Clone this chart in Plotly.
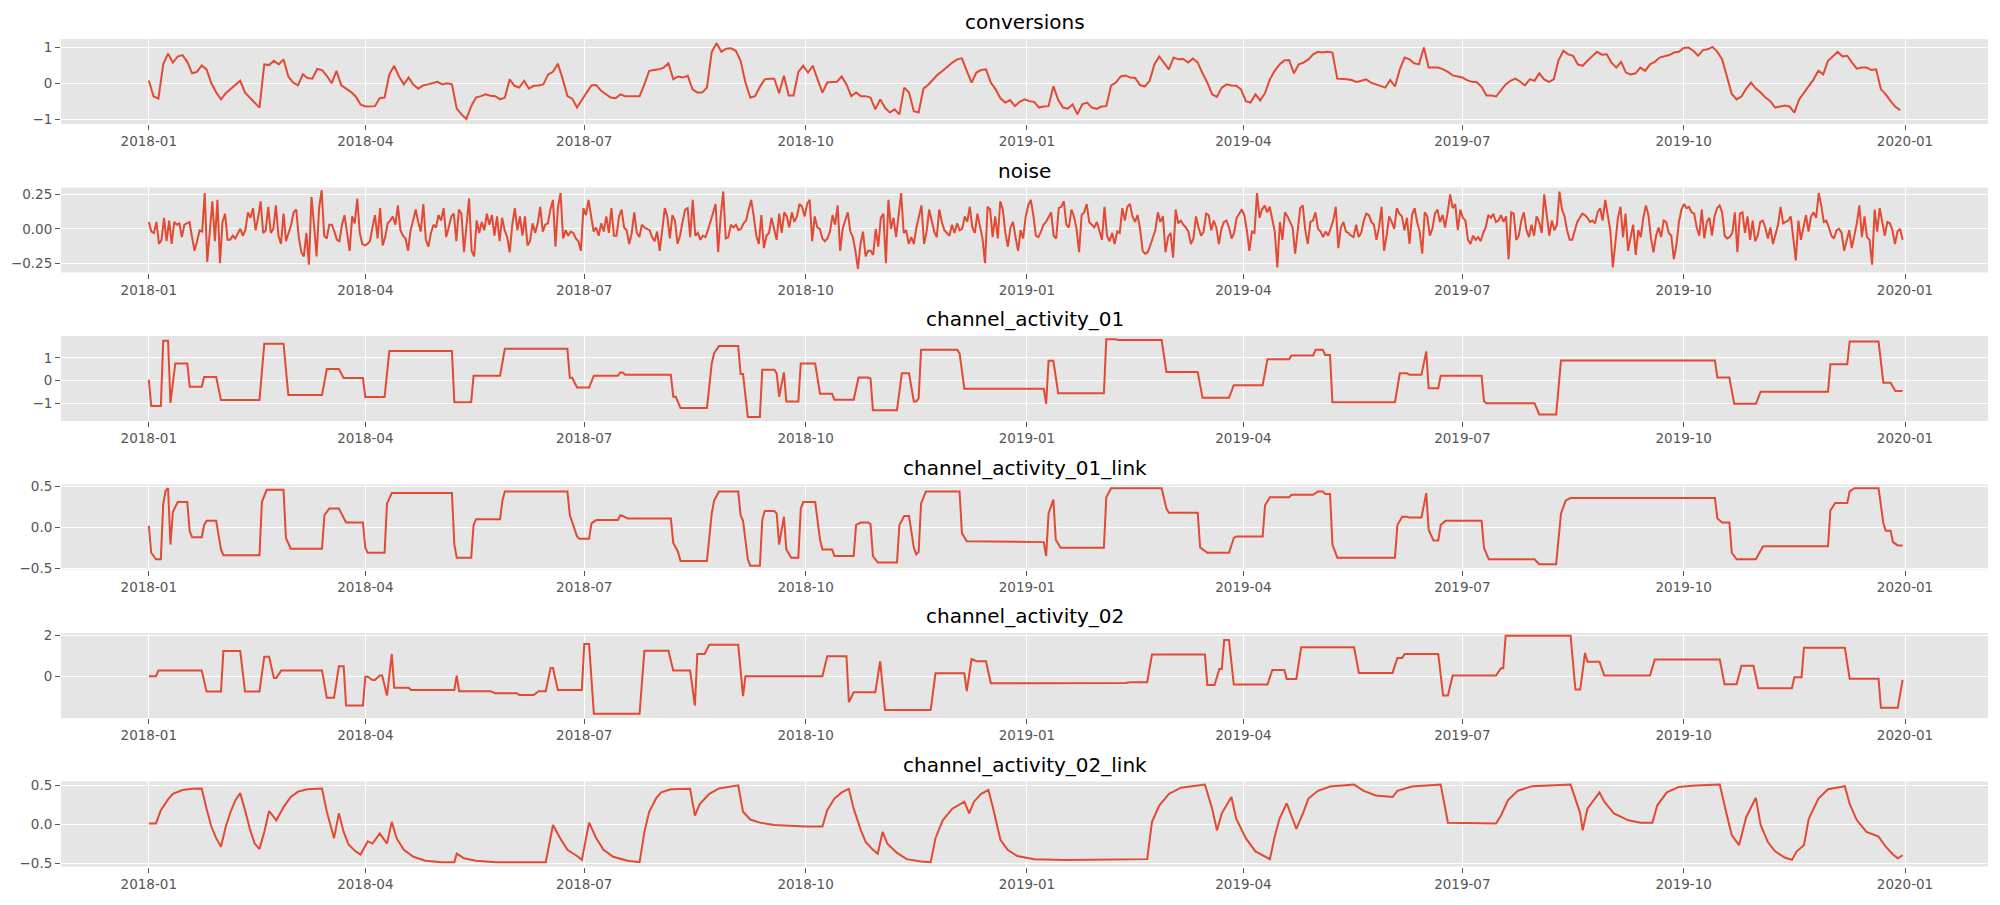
import pandas as pd
import plotly.graph_objects as go

# ---------------- data ----------------
START = "2018-01-01"
END = "2019-12-31"

titles = ["conversions", "noise", "channel_activity_01", "channel_activity_01_link",
          "channel_activity_02", "channel_activity_02_link"]

# conversions: one value every 2 days from 2018-01-01
conversions = [
    0.08, -0.37, -0.43, 0.54, 0.83, 0.58, 0.75, 0.79, 0.60, 0.28,
    0.32, 0.50, 0.39, 0.00, -0.25, -0.45, -0.28, -0.17, -0.05, 0.07,
    -0.26, -0.40, -0.54, -0.68, 0.53, 0.51, 0.63, 0.53, 0.67, 0.19,
    0.02, -0.06, 0.25, 0.15, 0.13, 0.40, 0.37, 0.21, 0.00, 0.35,
    -0.06, -0.15, -0.24, -0.37, -0.59, -0.65, -0.65, -0.64, -0.41, -0.40,
    0.25, 0.49, 0.19, -0.03, 0.16, -0.04, -0.15, -0.06, -0.03, 0.00,
    0.04, -0.03, 0.00, -0.03, -0.71, -0.87, -1.00, -0.64, -0.40, -0.36,
    -0.31, -0.35, -0.36, -0.45, -0.40, 0.11, -0.07, -0.12, 0.07, -0.15,
    -0.07, -0.06, -0.03, 0.25, 0.32, 0.55, 0.13, -0.36, -0.43, -0.68,
    -0.45, -0.26, -0.06, -0.05, -0.21, -0.31, -0.40, -0.42, -0.31, -0.36,
    -0.36, -0.37, -0.36, -0.03, 0.35, 0.37, 0.39, 0.44, 0.56, 0.11,
    0.19, 0.16, 0.21, -0.17, -0.26, -0.26, -0.12, 0.88, 1.12, 0.88,
    0.97, 0.98, 0.91, 0.63, 0.02, -0.40, -0.36, -0.10, 0.11, 0.13,
    0.13, -0.28, 0.21, -0.34, -0.34, 0.32, 0.49, 0.30, 0.49, 0.11,
    -0.26, 0.02, 0.02, 0.04, 0.19, -0.03, -0.36, -0.26, -0.36, -0.36,
    -0.40, -0.73, -0.45, -0.68, -0.82, -0.73, -0.87, -0.12, -0.26, -0.78,
    -0.82, -0.15, -0.04, 0.11, 0.25, 0.35, 0.47, 0.58, 0.67, 0.70,
    0.35, 0.02, 0.30, 0.37, 0.39, 0.02, -0.17, -0.42,
    -0.54, -0.47, -0.64, -0.52, -0.45, -0.50, -0.52, -0.68, -0.65, -0.64,
    -0.08, -0.46, -0.68, -0.71, -0.59, -0.87, -0.59, -0.54, -0.68, -0.72,
    -0.65, -0.64, -0.06, 0.02, 0.19, 0.22, 0.16, 0.15, -0.05, -0.09,
    0.07, 0.53, 0.75, 0.58, 0.39, 0.72, 0.67, 0.68, 0.58, 0.69,
    0.58, 0.28, 0.02, -0.31, -0.38, -0.12, -0.03, -0.06, -0.07, -0.17,
    -0.50, -0.54, -0.31, -0.48, -0.27, 0.11, 0.35, 0.53, 0.64, 0.65,
    0.28, 0.53, 0.58, 0.67, 0.81, 0.88, 0.86, 0.88, 0.86, 0.13,
    0.13, 0.11, 0.09, 0.04, 0.07, 0.11, 0.02, -0.03, -0.09, -0.12,
    0.09, -0.09, 0.39, 0.72, 0.67, 0.56, 0.53, 1.00, 0.44, 0.44,
    0.44, 0.39, 0.32, 0.22, 0.19, 0.16, 0.09, 0.04, 0.03, -0.10,
    -0.34, -0.34, -0.37, -0.21, -0.03, 0.07, 0.13, 0.05, -0.06, 0.11,
    0.07, 0.28, 0.11, 0.04, 0.11, 0.65, 0.91, 0.81, 0.77, 0.53,
    0.49, 0.63, 0.75, 0.88, 0.80, 0.81, 0.58, 0.44, 0.60, 0.30,
    0.25, 0.28, 0.44, 0.35, 0.53, 0.60, 0.72, 0.75, 0.79, 0.86,
    0.88, 0.99, 1.00, 0.91, 0.77, 0.93, 0.95, 1.02, 0.88, 0.67,
    0.20, -0.30, -0.45, -0.37, -0.15, 0.02, -0.15, -0.26, -0.40, -0.50,
    -0.68, -0.65, -0.62, -0.65, -0.82, -0.45, -0.26, -0.05, 0.11, 0.35,
    0.25, 0.63, 0.77, 0.88, 0.75, 0.77, 0.58, 0.41, 0.44, 0.44,
    0.37, 0.39, -0.17, -0.31, -0.50, -0.66, -0.75,
]

# noise: evenly spaced samples over 2018-01-01 .. 2019-12-31
noise = [
    0.05, -0.02, -0.03, 0.05, -0.11, -0.08, 0.08, -0.09, 0.06, -0.11, 0.05, 0.03, 0.04, -0.06, 0.03, 0.04,
    0.05, -0.06, -0.16, -0.09, -0.01, -0.02, 0.26, -0.24, -0.01, 0.20, -0.09, 0.21, -0.25, 0.05, 0.11, -0.08,
    -0.08, -0.05, -0.07, -0.03, 0.00, -0.05, -0.01, 0.12, 0.08, 0.15, -0.01, 0.08, 0.20, -0.03, -0.01, 0.16,
    -0.03, 0.00, 0.17, -0.05, -0.11, 0.11, -0.09, -0.03, 0.03, 0.12, 0.14, -0.06, -0.17, -0.20, -0.03, -0.26,
    0.23, 0.03, -0.20, 0.15, 0.28, -0.05, -0.07, 0.03, 0.03, -0.02, -0.08, -0.09, 0.03, 0.10, -0.05, -0.16,
    0.09, 0.04, 0.22, -0.03, -0.11, -0.12, -0.11, -0.09, 0.01, 0.10, -0.07, 0.15, -0.12, -0.06, 0.04, 0.06,
    0.09, 0.03, 0.17, -0.01, -0.05, -0.07, -0.16, -0.01, 0.06, 0.14, 0.05, -0.02, 0.18, -0.08, -0.13, -0.03,
    0.03, 0.01, 0.10, 0.06, 0.15, -0.06, 0.01, 0.09, 0.11, -0.09, 0.14, 0.11, -0.17, 0.01, 0.22, -0.16,
    -0.20, 0.06, -0.03, 0.05, -0.01, 0.11, 0.03, 0.10, -0.05, 0.09, -0.09, 0.08, -0.01, -0.06, -0.17, 0.03,
    0.15, -0.01, 0.09, -0.05, 0.09, -0.12, -0.09, 0.04, -0.03, 0.04, 0.16, -0.02, 0.03, 0.04, 0.14, 0.21,
    -0.13, 0.16, 0.26, -0.07, -0.01, -0.05, -0.02, -0.03, -0.07, -0.09, -0.16, 0.15, 0.10, 0.21, 0.08, -0.02,
    0.01, -0.05, 0.04, -0.02, 0.09, -0.03, 0.15, -0.05, -0.05, 0.09, 0.14, 0.01, -0.01, -0.11, -0.03, 0.12,
    -0.03, -0.06, 0.03, 0.01, 0.00, -0.01, -0.06, -0.09, -0.02, -0.16, -0.01, 0.15, 0.09, -0.07, 0.10, 0.06,
    -0.11, -0.05, 0.05, 0.14, 0.15, -0.06, 0.21, -0.05, -0.03, -0.08, -0.05, -0.06, -0.01, 0.05, 0.12, 0.18,
    -0.17, 0.09, 0.27, -0.07, -0.06, 0.03, 0.01, 0.03, -0.01, 0.00, 0.04, 0.06, 0.14, 0.21, 0.09, -0.05,
    -0.11, 0.10, -0.14, -0.05, -0.03, 0.08, 0.00, -0.08, 0.11, -0.03, 0.12, 0.09, 0.01, 0.12, 0.05, 0.09,
    0.18, 0.16, 0.09, 0.18, 0.21, -0.09, 0.09, 0.01, 0.00, -0.07, -0.09, -0.07, -0.02, 0.10, 0.03, 0.17,
    -0.16, 0.00, 0.06, 0.12, -0.02, -0.06, -0.16, -0.29, -0.11, -0.02, -0.20, -0.16, -0.16, -0.19, 0.00, -0.13,
    0.08, 0.11, -0.25, 0.21, 0.00, 0.08, -0.06, 0.12, 0.26, -0.03, -0.01, -0.11, -0.06, -0.11, 0.01, 0.09,
    0.17, -0.11, -0.02, 0.14, 0.06, -0.02, -0.06, 0.14, 0.05, -0.01, -0.03, -0.05, 0.03, -0.03, 0.04, -0.01,
    0.00, 0.09, 0.05, 0.16, 0.01, -0.03, 0.11, 0.01, -0.07, -0.25, 0.16, 0.14, -0.06, 0.09, -0.07, 0.20,
    0.14,
    -0.03, -0.13, 0.01, 0.05, -0.06, -0.16, -0.01, -0.07, 0.09, 0.17, 0.21, 0.10, -0.05, -0.06, -0.02, 0.03,
    0.05, 0.08, 0.12, -0.05, -0.07, 0.15, 0.16, 0.20, 0.03, 0.01, 0.14, 0.09, 0.00, -0.17, 0.10, 0.12,
    0.18, 0.05, 0.03, 0.01, 0.05, -0.01, -0.08, 0.16, -0.05, -0.09, -0.03, -0.11, -0.02, -0.03, 0.15, 0.06,
    0.16, 0.18, 0.09, 0.05, 0.10, 0.00, -0.16, -0.18, -0.17, -0.12, -0.06, -0.01, 0.12, 0.05, 0.09, -0.17,
    -0.06, -0.03, -0.21, 0.14, 0.04, 0.06, 0.03, 0.01, -0.02, -0.11, -0.07, 0.09, 0.01, -0.05, -0.02, 0.11,
    0.10, -0.01, 0.06, 0.01, -0.11, 0.00, 0.05, 0.06, 0.01, -0.07, -0.03, 0.08, 0.11, 0.14, 0.10, -0.01,
    -0.16, -0.02, -0.03, 0.26, 0.08, 0.14, 0.17, 0.12, 0.16, 0.06, -0.02, -0.28, 0.05, -0.08, 0.12, 0.09,
    0.05, 0.01, -0.18, 0.00, 0.15, 0.17, -0.01, -0.11, 0.05, 0.06, 0.12, 0.00, -0.02, -0.06, -0.02, -0.05,
    0.00, 0.06, 0.16, -0.14, 0.01, 0.05, -0.02, -0.03, -0.05, -0.06, 0.03, -0.06, -0.03, 0.06, 0.11, 0.10,
    0.05, 0.03, -0.08, 0.01, 0.16, -0.16, -0.05, 0.09, 0.05, 0.00, 0.15, 0.11, 0.09, -0.01, 0.08, -0.11,
    0.10, 0.15, 0.05, -0.02, -0.18, 0.12, 0.09, -0.05, 0.00, 0.11, 0.14, 0.05, 0.10, 0.01, 0.12, 0.25,
    0.15, 0.18, -0.01, 0.14, 0.08, 0.06, -0.08, -0.11, -0.05, -0.08, -0.06, -0.09, -0.03, 0.01, 0.10, 0.08,
    0.11, 0.05, 0.06, 0.10, 0.05, 0.09, -0.22, 0.12, 0.11, -0.08, -0.05, 0.06, 0.12, -0.01, -0.06, 0.03,
    -0.05, 0.09, 0.05, -0.03, 0.25, 0.09, -0.05, 0.06, -0.01, 0.03, 0.27, 0.14, 0.09, -0.01, -0.08, -0.08,
    -0.01, 0.05, 0.08, 0.11, 0.10, 0.08, 0.05, 0.06, 0.04, 0.12, 0.15, 0.06, 0.21, 0.09, -0.01, -0.28,
    -0.08, 0.08, 0.16, -0.06, 0.11, -0.16, -0.06, 0.03, -0.19, -0.01, -0.06, 0.08, 0.17, 0.10, -0.07, -0.17,
    -0.05, 0.01, -0.06, 0.06, 0.05, -0.03, -0.05, -0.22, -0.12, 0.05, 0.14, 0.18, 0.15, 0.16, 0.12, 0.11,
    0.01, -0.05, 0.14, -0.07, 0.05, 0.08, -0.05, 0.09, 0.15, 0.17, 0.12, -0.05, -0.07, -0.06, -0.03, 0.12,
    -0.17, 0.11, 0.12, -0.03, 0.09, -0.08, 0.06, -0.09, -0.05, 0.05, 0.06, 0.01, -0.07, 0.01, -0.11, -0.03,
    0.03, 0.16, 0.04, 0.05, 0.06, 0.09, -0.07, -0.23, 0.06, -0.08, 0.01, 0.10, -0.02, 0.09, 0.12, 0.08,
    0.26, 0.17, 0.05, 0.06, 0.01, -0.05, -0.07, -0.01, 0.00, -0.03, -0.16, -0.08, -0.01, -0.14, -0.05, 0.04,
    0.17, -0.06, 0.09, -0.06, -0.08, -0.26, 0.14, -0.02, 0.15, 0.06, -0.05, 0.05, 0.04, -0.01, -0.11, -0.02,
    0.00, -0.08,
]

# step-like series: (day offset from 2018-01-01, value) break points
ch1_points = [
    (0, 0.04), (1, -1.10), (5, -1.10), (6, 1.74), (8, 1.74), (9, -0.97), (11, 0.75), (16, 0.75),
    (17, -0.26), (22, -0.26), (23, 0.16), (28, 0.16), (30, -0.84), (46, -0.84), (48, 1.61), (56, 1.61),
    (58, -0.62), (72, -0.62), (74, 0.51), (79, 0.51), (81, 0.12), (89, 0.12), (90, -0.71), (98, -0.71),
    (100, 1.30), (126, 1.30), (127, -0.94), (134, -0.94), (135, 0.22), (146, 0.22), (148, 1.39), (174, 1.39),
    (175, 0.13), (176, 0.13), (178, -0.30), (183, -0.30), (185, 0.22), (195, 0.22), (196, 0.36), (197, 0.36),
    (198, 0.26), (217, 0.26), (218, -0.70), (219, -0.70), (221, -1.19), (232, -1.19), (234, 0.75), (235, 1.20),
    (237, 1.51), (245, 1.51), (246, 0.29), (247, 0.29), (249, -1.59), (254, -1.59), (255, 0.48), (260, 0.48),
    (261, 0.32), (262, -0.70), (264, 0.36), (265, -0.91), (270, -0.91), (271, 0.75), (277, 0.75), (279, -0.57),
    (284, -0.57), (285, -0.83), (293, -0.83), (295, 0.14), (299, 0.14), (300, 0.10), (301, -1.29), (311, -1.29),
    (313, 0.32), (316, 0.32), (318, -0.91), (319, -0.91), (320, -0.77), (321, 1.35), (336, 1.35), (337, 1.20),
    (339, -0.35), (372, -0.35), (373, -1.01), (374, 0.87), (376, 0.87), (378, -0.55), (397, -0.55), (398, 1.81),
    (402, 1.81), (403, 1.77), (421, 1.77), (423, 0.38), (436, 0.38), (438, -0.75), (449, -0.75), (451, -0.20),
    (463, -0.20), (465, 0.94), (474, 0.94), (475, 1.10), (484, 1.10), (485, 1.35), (488, 1.35), (489, 1.12),
    (491, 1.12), (492, -0.94), (518, -0.94), (520, 0.32), (523, 0.32), (524, 0.26), (529, 0.26), (531, 1.28),
    (532, -0.33), (536, -0.33), (537, 0.22), (554, 0.22), (555, -0.90), (556, -0.99), (576, -0.99), (578, -1.48),
    (585, -1.48), (587, 0.88), (651, 0.88), (652, 0.14), (657, 0.14), (659, -1.01), (668, -1.01), (670, -0.48),
    (698, -0.48), (699, 0.72), (706, 0.72), (707, 1.71), (719, 1.71), (721, -0.09), (724, -0.09), (726, -0.45),
    (729, -0.45),
]

ch1_link_points = [
    (0, 0.02), (1, -0.31), (3, -0.39), (5, -0.39), (6, 0.29), (7, 0.45), (8, 0.48), (9, -0.21),
    (10, 0.19), (12, 0.31), (16, 0.31), (17, -0.05), (18, -0.12), (22, -0.12), (23, 0.03), (24, 0.08),
    (28, 0.08), (30, -0.27), (31, -0.34), (46, -0.34), (47, 0.31), (49, 0.46), (56, 0.46), (57, -0.13),
    (59, -0.26), (72, -0.26), (73, 0.15), (75, 0.23), (79, 0.23), (81, 0.11), (82, 0.06), (89, 0.06),
    (90, -0.25), (91, -0.31), (98, -0.31), (99, 0.29), (101, 0.42), (126, 0.42), (127, -0.21), (128, -0.37),
    (134, -0.37), (135, 0.03), (136, 0.10), (146, 0.10), (147, 0.33), (148, 0.44), (174, 0.44), (175, 0.15),
    (176, 0.06), (178, -0.11), (179, -0.14), (183, -0.14), (184, 0.05), (186, 0.09), (195, 0.09), (196, 0.15),
    (197, 0.14), (199, 0.11), (217, 0.11), (218, -0.19), (220, -0.30), (221, -0.41), (232, -0.41), (234, 0.17),
    (235, 0.33), (237, 0.44), (245, 0.44), (246, 0.15), (247, 0.08), (249, -0.39), (250, -0.47), (254, -0.47),
    (255, 0.09), (256, 0.20), (260, 0.20), (261, 0.17), (262, -0.21), (264, 0.13), (265, -0.27), (267, -0.37),
    (270, -0.37), (271, 0.23), (272, 0.31), (277, 0.31), (279, -0.15), (280, -0.27), (284, -0.27), (285, -0.35),
    (293, -0.35), (294, 0.03), (296, 0.06), (299, 0.06), (300, 0.04), (301, -0.35), (303, -0.43), (311, -0.43),
    (312, 0.03), (314, 0.14), (316, 0.14), (318, -0.25), (319, -0.33), (320, -0.30), (321, 0.29), (323, 0.44),
    (337, 0.44), (338, -0.07), (340, -0.17), (372, -0.18), (373, -0.35), (374, 0.17), (376, 0.34), (377, -0.15),
    (379, -0.25), (397, -0.25), (398, 0.37), (400, 0.48), (421, 0.48), (423, 0.23), (424, 0.18), (436, 0.18),
    (437, -0.245), (440, -0.31), (449, -0.31), (451, -0.13), (452, -0.11), (463, -0.11), (464, 0.27), (466, 0.37),
    (474, 0.37), (475, 0.40), (484, 0.40), (486, 0.44), (488, 0.44), (489, 0.41), (491, 0.41), (492, -0.21),
    (494, -0.37), (518, -0.37), (519, 0.03), (521, 0.13), (523, 0.13), (524, 0.12), (529, 0.12), (531, 0.42),
    (532, -0.03), (534, -0.16), (536, -0.16), (537, 0.03), (539, 0.08), (554, 0.08), (555, -0.25), (557, -0.39),
    (576, -0.39), (578, -0.45), (585, -0.45), (587, 0.17), (589, 0.33), (591, 0.36), (651, 0.36), (652, 0.11),
    (654, 0.06), (657, 0.06), (658, -0.31), (660, -0.39), (668, -0.39), (670, -0.27), (671, -0.23), (698, -0.23),
    (699, 0.21), (701, 0.30), (706, 0.30), (707, 0.44), (709, 0.48), (719, 0.48), (721, 0.05), (722, -0.04),
    (724, -0.04), (725, -0.18), (727, -0.22), (729, -0.22),
]

ch2_points = [
    (0, 0.02), (3, 0.02), (4, 0.29), (22, 0.29), (24, -0.72), (30, -0.72), (31, 1.23), (38, 1.23),
    (40, -0.72), (46, -0.72), (48, 0.96), (50, 0.96), (52, -0.06), (53, -0.06), (55, 0.29), (72, 0.29),
    (74, -1.02), (77, -1.02), (79, 0.50), (81, 0.50), (82, -1.39), (89, -1.39), (90, 0.0), (91, 0.0),
    (93, -0.16), (94, -0.16), (96, 0.05), (97, 0.05), (99, -0.91), (101, 1.09), (102, -0.54), (108, -0.54),
    (109, -0.64), (127, -0.64), (128, 0.05), (129, -0.70), (142, -0.70), (144, -0.80), (153, -0.80), (154, -0.88),
    (160, -0.88), (162, -0.70), (165, -0.70), (167, 0.42), (168, 0.42), (170, -0.64), (180, -0.64), (181, 1.57),
    (183, 1.57), (185, -1.79), (204, -1.79), (206, 1.25), (216, 1.25), (218, 0.29), (225, 0.29), (227, -1.39),
    (228, 1.09), (231, 1.09), (233, 1.54), (245, 1.54), (247, -0.94), (248, 0.02), (280, 0.02), (282, 0.98),
    (290, 0.98), (291, -1.23), (293, -0.75), (302, -0.75), (304, 0.74), (306, -1.60), (325, -1.60), (327, 0.16),
    (339, 0.16), (340, -0.70), (342, 0.85), (344, 0.74), (348, 0.74), (350, -0.32), (406, -0.30), (408, -0.27),
    (415, -0.27), (417, 1.06), (439, 1.06), (440, -0.40), (443, -0.40), (445, 0.37), (446, 0.37), (447, 1.76),
    (449, 1.76), (451, -0.38), (465, -0.38), (467, 0.32), (472, 0.32), (473, -0.11), (477, -0.11), (479, 1.41),
    (501, 1.41), (503, 0.18), (517, 0.18), (519, 0.90), (521, 0.90), (522, 1.09), (536, 1.09), (538, -0.91),
    (540, -0.91), (542, 0.05), (560, 0.05), (562, 0.40), (563, 0.40), (564, 1.97), (591, 1.97), (593, -0.62),
    (595, -0.62), (597, 1.14), (598, 0.72), (603, 0.72), (605, 0.05), (624, 0.05), (626, 0.82), (653, 0.82),
    (655, -0.37), (660, -0.37), (662, 0.53), (667, 0.53), (669, -0.56), (683, -0.56), (684, -0.03), (687, -0.03),
    (688, 1.39), (705, 1.39), (707, -0.10), (719, -0.10), (720, -1.50), (727, -1.50), (729, -0.16),
]

ch2_link_points = [
    (0, 0.01), (3, 0.01), (5, 0.18), (8, 0.32), (10, 0.39), (14, 0.44), (18, 0.455), (22, 0.46),
    (24, 0.20), (26, -0.03), (28, -0.18), (30, -0.29), (32, -0.03), (34, 0.16), (36, 0.31), (38, 0.40),
    (40, 0.18), (42, -0.06), (44, -0.25), (46, -0.32), (48, -0.10), (50, 0.17), (53, 0.05), (56, 0.22),
    (59, 0.35), (62, 0.42), (66, 0.45), (72, 0.46), (74, 0.16), (76, -0.06), (77, -0.18), (79, 0.14),
    (81, -0.10), (83, -0.26), (86, -0.35), (88, -0.39), (91, -0.22), (93, -0.25), (96, -0.12), (99, -0.25),
    (101, 0.03), (103, -0.18), (106, -0.33), (110, -0.42), (115, -0.47), (122, -0.49), (127, -0.49), (128, -0.38),
    (131, -0.44), (136, -0.47), (144, -0.49), (165, -0.49), (168, -0.01), (171, -0.18), (174, -0.33), (178, -0.41),
    (180, -0.46), (183, 0.02), (186, -0.18), (189, -0.33), (193, -0.42), (199, -0.47), (204, -0.49), (206, -0.10),
    (208, 0.16), (211, 0.34), (213, 0.41), (217, 0.45), (225, 0.455), (227, 0.11), (229, 0.26), (233, 0.39),
    (237, 0.46), (245, 0.50), (247, 0.16), (250, 0.06), (254, 0.02), (260, -0.01), (273, -0.03), (280, -0.03),
    (282, 0.18), (285, 0.33), (288, 0.41), (291, 0.455), (293, 0.20), (296, -0.08), (298, -0.23), (301, -0.33),
    (303, -0.38), (305, -0.10), (307, -0.25), (311, -0.37), (315, -0.45), (321, -0.48), (325, -0.49), (327, -0.18),
    (330, 0.05), (334, 0.20), (339, 0.29), (341, 0.14), (343, 0.29), (346, 0.39), (349, 0.44), (351, 0.20),
    (354, -0.20), (357, -0.33), (361, -0.41), (368, -0.45), (381, -0.46), (415, -0.45), (417, 0.03), (420, 0.24),
    (424, 0.39), (429, 0.47), (439, 0.51), (442, 0.20), (444, -0.08), (446, 0.14), (450, 0.35), (452, 0.07),
    (456, -0.18), (460, -0.35), (464, -0.42), (466, -0.45), (468, -0.16), (470, 0.07), (473, 0.27), (475, 0.11),
    (477, -0.06), (480, 0.16), (482, 0.33), (486, 0.43), (491, 0.485), (501, 0.51), (505, 0.43), (510, 0.37),
    (517, 0.35), (519, 0.43), (525, 0.485), (537, 0.51), (540, 0.02), (560, 0.01), (562, 0.11), (565, 0.31),
    (569, 0.43), (575, 0.49), (591, 0.51), (595, 0.14), (596, -0.08), (598, 0.20), (603, 0.41), (605, 0.29),
    (609, 0.14), (615, 0.05), (620, 0.02), (625, 0.02), (627, 0.24), (631, 0.41), (636, 0.48), (643, 0.50),
    (653, 0.51), (656, 0.11), (658, -0.14), (661, -0.27), (664, 0.09), (668, 0.34), (670, -0.01), (673, -0.23),
    (676, -0.35), (680, -0.43), (683, -0.46), (685, -0.35), (688, -0.27), (690, 0.07), (694, 0.33), (698, 0.45),
    (705, 0.49), (707, 0.26), (710, 0.05), (714, -0.10), (719, -0.16), (722, -0.29), (725, -0.39), (727, -0.44),
    (729, -0.40),
]

# axis tick definitions per panel
y_tickvals = [[-1, 0, 1], [-0.25, 0, 0.25], [-1, 0, 1], [-0.5, 0, 0.5], [0, 2], [-0.5, 0, 0.5]]
y_tickformat = ["d", ".2f", "d", ".1f", "d", ".1f"]
y_ranges = [[-1.14, 1.24], [-0.317, 0.30], [-1.76, 1.95], [-0.515, 0.525], [-1.99, 2.10], [-0.545, 0.55]]

# ---------------- build figure ----------------
start = pd.Timestamp(START)


def from_points(points):
    days, vals = zip(*points)
    return start + pd.to_timedelta(list(days), unit="D"), list(vals)


conv_x = pd.date_range(START, periods=len(conversions), freq="2D")
noise_x = pd.date_range(START, END, periods=len(noise))
series = [
    (conv_x, conversions),
    (noise_x, noise),
    from_points(ch1_points),
    from_points(ch1_link_points),
    from_points(ch2_points),
    from_points(ch2_link_points),
]

W, H = 2000, 905
MT, MB, ML, MR = 39, 38, 61, 12
PH = H - MT - MB
PANEL_H = 85
STEP = 148.5
x_range = ["2017-11-25 12:00", "2020-02-04 12:00"]

LINE = "#E24A33"
TICK = "#555555"
FONT = "DejaVu Sans"

fig = go.Figure()
layout = dict(
    width=W, height=H,
    margin=dict(l=ML, r=MR, t=MT, b=MB),
    paper_bgcolor="white",
    plot_bgcolor="#E5E5E5",
    showlegend=False,
    font=dict(family=FONT, color=TICK, size=13.5),
    annotations=[],
)

for i, ((xs, ys), title) in enumerate(zip(series, titles)):
    n = "" if i == 0 else str(i + 1)
    fig.add_trace(go.Scatter(x=xs, y=ys, mode="lines",
                             line=dict(color=LINE, width=2),
                             xaxis="x" + n, yaxis="y" + n, name=title))
    top = MT + STEP * i
    bottom = top + PANEL_H
    dom = [(H - MB - bottom) / PH, (H - MB - top) / PH]
    layout["xaxis" + n] = dict(
        domain=[0, 1], anchor="y" + n, type="date", range=x_range,
        tickformat="%Y-%m", dtick="M3", tick0="2018-01-01",
        showgrid=True, gridcolor="white", gridwidth=1.1,
        ticks="outside", ticklen=5, tickwidth=1, tickcolor=TICK,
        tickfont=dict(family=FONT, size=13.5, color=TICK),
        showline=False, zeroline=False, ticklabelstandoff=0,
    )
    layout["yaxis" + n] = dict(
        domain=dom, anchor="x" + n, range=y_ranges[i],
        tickmode="array", tickvals=y_tickvals[i], tickformat=y_tickformat[i],
        showgrid=True, gridcolor="white", gridwidth=1.1,
        ticks="outside", ticklen=5, tickwidth=1, tickcolor=TICK,
        tickfont=dict(family=FONT, size=13.5, color=TICK),
        showline=False, zeroline=False,
    )
    layout["annotations"].append(dict(
        text=title, x=0.5, y=dom[1], xref="paper", yref="paper",
        xanchor="center", yanchor="bottom", yshift=3, showarrow=False,
        font=dict(family=FONT, size=20, color="black"),
    ))

fig.update_layout(**layout)
# remove the browser's default 8px page margin so the figure sits at (0, 0)
fig.write_html("out.html",
               config={"displayModeBar": False},
               post_script="document.body.style.margin='0px';document.body.style.overflow='hidden';")
